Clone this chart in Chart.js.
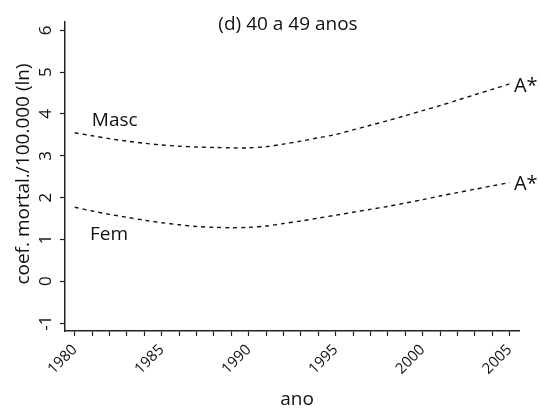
<!DOCTYPE html>
<html>
<head>
<meta charset="utf-8">
<script src="https://cdn.jsdelivr.net/npm/chart.js@4"></script>
<style>
  body { margin: 0; background: #fff; }
  #wrap { width: 540px; height: 409px; }
</style>
</head>
<body>
<div id="wrap"><canvas id="grafico"></canvas></div>
<script>
// anos e valores (ln do coef. de mortalidade por 100.000)
const anos = [1980, 1981, 1982, 1983, 1984, 1985, 1986, 1987, 1988, 1989, 1990, 1991, 1992,
  1993, 1994, 1995, 1996, 1997, 1998, 1999, 2000, 2001, 2002, 2003, 2004, 2005];
const masc = [3.55, 3.48, 3.41, 3.35, 3.30, 3.26, 3.23, 3.21, 3.20, 3.19, 3.19, 3.22, 3.28,
  3.35, 3.43, 3.51, 3.62, 3.73, 3.84, 3.96, 4.08, 4.20, 4.33, 4.46, 4.59, 4.72];
const fem = [1.77, 1.68, 1.60, 1.53, 1.46, 1.40, 1.35, 1.31, 1.29, 1.28, 1.29, 1.32, 1.38,
  1.44, 1.51, 1.58, 1.65, 1.72, 1.79, 1.87, 1.95, 2.04, 2.12, 2.20, 2.28, 2.36];
const yTicks = [-1, 0, 1, 2, 3, 4, 5, 6];
const xLabels = [1980, 1985, 1990, 1995, 2000, 2005];

const fonte = '"Open Sans", sans-serif';

function pontos(valores) {
  return anos.map((a, i) => ({ x: a, y: valores[i] }));
}

// textos desenhados por cima (titulo, eixos, rotulos das curvas)
const textos = {
  id: 'textos',
  afterDraw(chart) {
    const ctx = chart.ctx;
    const sx = chart.scales.x;
    const sy = chart.scales.y;
    ctx.save();
    ctx.fillStyle = '#111';

    // titulo
    ctx.font = '19px ' + fonte;
    ctx.textAlign = 'center';
    ctx.textBaseline = 'alphabetic';
    ctx.fillText('(d) 40 a 49 anos', 288, 30);

    // rotulos das curvas
    ctx.font = '19px ' + fonte;
    ctx.fillText('Masc', sx.getPixelForValue(1982.3), sy.getPixelForValue(3.72));
    ctx.fillText('Fem', sx.getPixelForValue(1981.97), sy.getPixelForValue(0.98));
    ctx.textAlign = 'left';
    ctx.font = '20px ' + fonte;
    ctx.fillText('A*', sx.getPixelForValue(2005.25), sy.getPixelForValue(4.52));
    ctx.fillText('A*', sx.getPixelForValue(2005.25), sy.getPixelForValue(2.19));

    // ticks do eixo y, girados
    ctx.font = '17px ' + fonte;
    ctx.textAlign = 'center';
    yTicks.forEach(v => {
      ctx.save();
      ctx.translate(51, sy.getPixelForValue(v));
      ctx.rotate(-Math.PI / 2);
      ctx.fillText(String(v), 0, 0);
      ctx.restore();
    });

    // titulos dos eixos
    ctx.font = '19px ' + fonte;
    ctx.save();
    ctx.translate(29, 174);
    ctx.rotate(-Math.PI / 2);
    ctx.fillText('coef. mortal./100.000 (ln)', 0, 0);
    ctx.restore();
    ctx.fillText('ano', 297, 405);

    ctx.restore();
  }
};

const linha = {
  borderColor: '#111',
  borderWidth: 1.4,
  borderDash: [4, 4],
  pointRadius: 0,
  tension: 0.3,
  fill: false
};

new Chart(document.querySelector('#grafico'), {
  type: 'line',
  data: {
    datasets: [
      Object.assign({ label: 'Masc', data: pontos(masc) }, linha),
      Object.assign({ label: 'Fem', data: pontos(fem) }, linha)
    ]
  },
  options: {
    responsive: true,
    maintainAspectRatio: false,
    animation: false,
    layout: { padding: { top: 22, right: 21, left: 0, bottom: 0 } },
    plugins: {
      legend: { display: false },
      tooltip: { enabled: false },
      title: { display: false }
    },
    scales: {
      x: {
        type: 'linear',
        min: 1979.44,
        max: 2005.54,
        afterBuildTicks: s => { s.ticks = anos.map(a => ({ value: a })); },
        afterFit: s => { s.height = 78; },
        border: { display: true, color: '#222', width: 1.5 },
        grid: { drawOnChartArea: false, drawTicks: true, tickLength: 5, tickColor: '#222', tickWidth: 1.2 },
        ticks: {
          autoSkip: false,
          minRotation: 45,
          maxRotation: 45,
          padding: 5,
          color: '#111',
          font: { family: fonte, size: 15 },
          callback: v => xLabels.includes(v) ? String(v) : ''
        }
      },
      y: {
        type: 'linear',
        min: -1.19,
        max: 6.2,
        afterBuildTicks: s => { s.ticks = yTicks.map(v => ({ value: v })); },
        afterFit: s => { s.width = 65; },
        border: { display: true, color: '#222', width: 1.5 },
        grid: { drawOnChartArea: false, drawTicks: true, tickLength: 5, tickColor: '#222', tickWidth: 1.2 },
        ticks: { display: false }
      }
    }
  },
  plugins: [textos]
});
</script>
</body>
</html>
